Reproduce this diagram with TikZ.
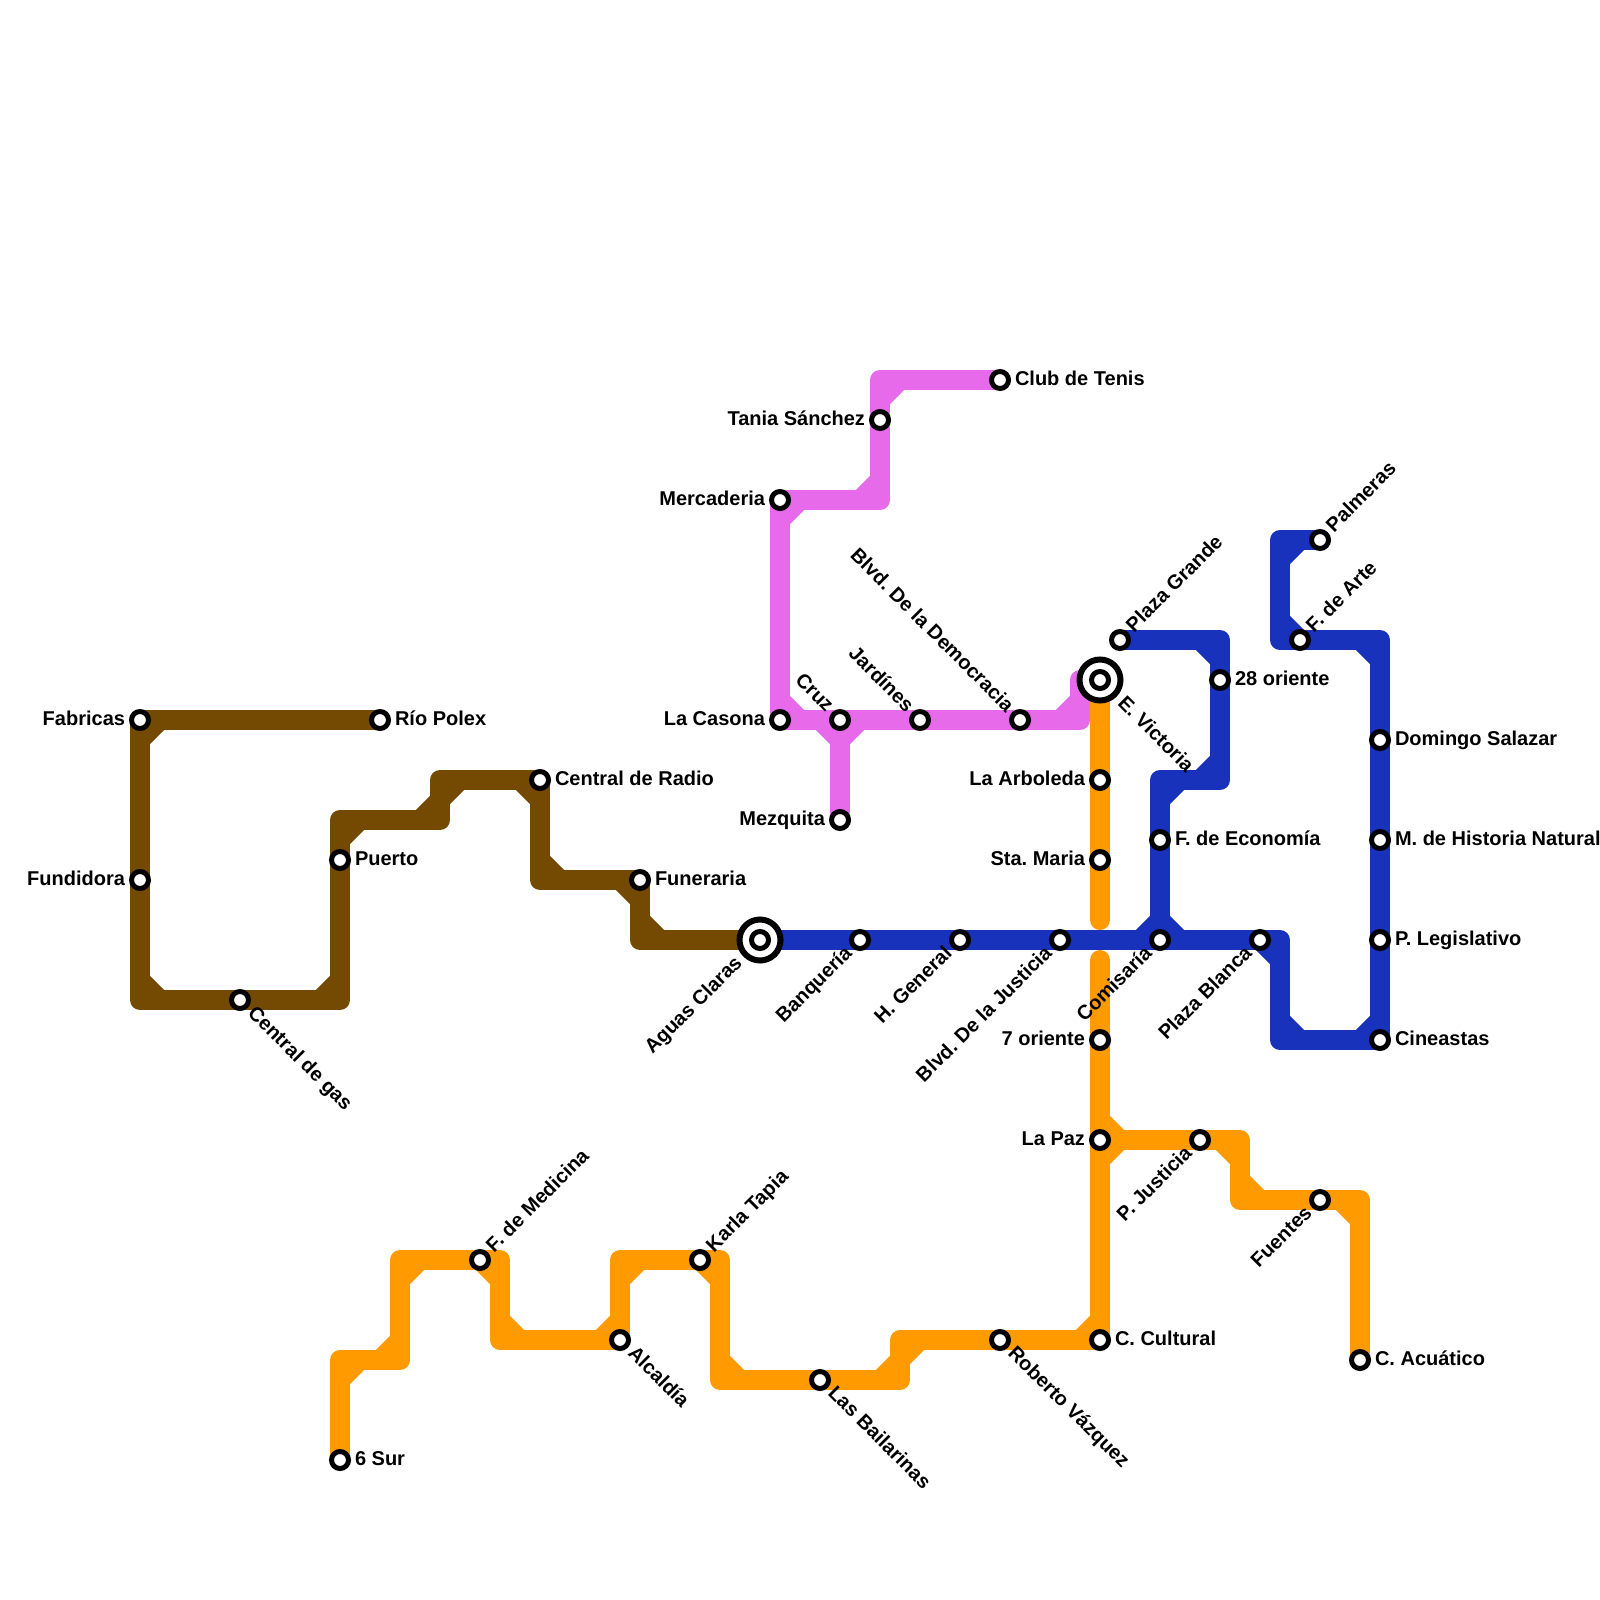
\documentclass[tikz,border=0pt]{standalone}
\usepackage{fontspec}
\setmainfont{Liberation Sans}
\usetikzlibrary{calc,backgrounds}
\definecolor{cbrown}{HTML}{744A02}
\definecolor{cpink}{HTML}{E66AE9}
\definecolor{corange}{HTML}{FF9B00}
\definecolor{cblue}{HTML}{1932BB}
\tikzset{
  stn/.style={circle,draw=black,fill=white,line width=5pt,inner sep=0pt,outer sep=0pt,minimum size=17pt},
  hub/.style={circle,draw=black,fill=white,line width=6pt,inner sep=0pt,outer sep=0pt,minimum size=41pt},
  route/.style={line width=20pt,line join=round,line cap=round},
  lab/.style={inner sep=0pt,outer sep=0pt,text height=14pt,text depth=3.8pt,font=\fontsize{20}{24}\selectfont\bfseries\frenchspacing},
  lr/.style={lab,anchor=west,xshift=15pt},
  ll/.style={lab,anchor=east,xshift=-15pt},
  ur/.style={lab,anchor=west,xshift=10.6pt,yshift=10.6pt,rotate=45},
  dr/.style={lab,anchor=west,xshift=10.6pt,yshift=-10.6pt,rotate=-45},
  dl/.style={lab,anchor=east,xshift=-10.6pt,yshift=-10.6pt,rotate=45},
  ul/.style={lab,anchor=east,xshift=-10.6pt,yshift=10.6pt,rotate=-45},
  hubdr/.style={lab,anchor=west,xshift=20.5pt,yshift=-20.5pt,rotate=-45},
  hubdl/.style={lab,anchor=east,xshift=-20.5pt,yshift=-20.5pt,rotate=45},
}
\newcommand{\cham}[2]{%
  \foreach \p/\q/\r in {#2}
    \draw[line width=20pt,#1] ($(\q.center)!20pt!(\p.center)$) -- ($(\q.center)!20pt!(\r.center)$);%
}
\begin{document}
\begin{tikzpicture}[x=1pt,y=-1pt]
\useasboundingbox (0,0) rectangle (1600,1600);
% interchange rings
\node[hub] (aguasring) at (760,940) {};
\node[hub] (victoriaring) at (1100,680) {};
% stations
\foreach \n/\x/\y in {
 fabricas/140/720, polex/380/720, fundidora/140/880, cgas/240/1000, puerto/340/860,
 cradio/540/780, funeraria/640/880, aguas/760/940,
 banqueria/860/940, hgeneral/960/940, bjusticia/1060/940, comisaria/1160/940, pblanca/1260/940,
 cineastas/1380/1040, plegis/1380/940, mhist/1380/840, dsalazar/1380/740, farte/1300/640, palmeras/1320/540,
 pgrande/1120/640, oriente/1220/680, feco/1160/840,
 victoria/1100/680, arboleda/1100/780, stamaria/1100/860,
 sieteor/1100/1040, lapaz/1100/1140, ccultural/1100/1340, pjusticia/1200/1140, fuentes/1320/1200, acuatico/1360/1360,
 roberto/1000/1340, bailarinas/820/1380, karla/700/1260, alcaldia/620/1340, fmedicina/480/1260, seissur/340/1460,
 tenis/1000/380, tania/880/420, mercaderia/780/500, casona/780/720, cruz/840/720, jardines/920/720, bdemo/1020/720, mezquita/840/820}
 {\node[stn] (\n) at (\x,\y) {};}
% corners
\foreach \n/\x/\y in {
 b1/140/1000, b2/340/1000, b3/340/820, b4/440/820, b5/440/780, b6/540/880, b7/640/940,
 l1/1280/940, l2/1280/1040, l3/1380/640, l4/1280/640, l5/1280/540, l6/1160/780, l7/1220/780, l8/1220/640,
 o1/340/1360, o2/400/1360, o3/400/1260, o4/500/1260, o5/500/1340, o6/620/1260, o7/720/1260, o8/720/1380,
 o9/900/1380, o10/900/1340, o11/1240/1140, o12/1240/1200, o13/1360/1200, oend/1100/920, ostart/1100/960,
 p1/880/380, p2/880/500, p3/1080/720, p4/1080/680}
 {\coordinate (\n) at (\x,\y);}
\begin{pgfonlayer}{background}
\fill[white] (0,0) rectangle (1600,1600);
% pink
\draw[route,cpink] (tenis.center) -- (p1.center) -- (tania.center) -- (p2.center) -- (mercaderia.center) -- (casona.center) -- (cruz.center) -- (jardines.center) -- (bdemo.center) -- (p3.center) -- (p4.center) -- (victoria.center);
\draw[route,cpink] (cruz.center) -- (mezquita.center);
\cham{cpink}{tenis/p1/tania, tania/p2/mercaderia, p2/mercaderia/casona, mercaderia/casona/cruz, casona/cruz/mezquita, jardines/cruz/mezquita, bdemo/p3/p4, p3/p4/victoria}
% orange
\draw[route,corange] (victoria.center) -- (arboleda.center) -- (stamaria.center) -- (oend.center);
\draw[route,corange] (ostart.center) -- (sieteor.center) -- (lapaz.center) -- (ccultural.center) -- (roberto.center) -- (o10.center) -- (o9.center) -- (bailarinas.center) -- (o8.center) -- (o7.center) -- (karla.center) -- (o6.center) -- (alcaldia.center) -- (o5.center) -- (o4.center) -- (fmedicina.center) -- (o3.center) -- (o2.center) -- (o1.center) -- (seissur.center);
\draw[route,corange] (lapaz.center) -- (pjusticia.center) -- (o11.center) -- (o12.center) -- (fuentes.center) -- (o13.center) -- (acuatico.center);
\cham{corange}{sieteor/lapaz/pjusticia, ccultural/lapaz/pjusticia, lapaz/ccultural/roberto, roberto/o10/o9, o10/o9/bailarinas, bailarinas/o8/o7, o8/o7/karla, karla/o6/alcaldia, o6/alcaldia/o5, alcaldia/o5/o4, o5/o4/fmedicina, fmedicina/o3/o2, o3/o2/o1, o2/o1/seissur, pjusticia/o11/o12, o11/o12/fuentes, fuentes/o13/acuatico}
% blue
\draw[route,cblue] (aguas.center) -- (banqueria.center) -- (hgeneral.center) -- (bjusticia.center) -- (comisaria.center) -- (pblanca.center) -- (l1.center) -- (l2.center) -- (cineastas.center) -- (plegis.center) -- (mhist.center) -- (dsalazar.center) -- (l3.center) -- (farte.center) -- (l4.center) -- (l5.center) -- (palmeras.center);
\draw[route,cblue] (comisaria.center) -- (feco.center) -- (l6.center) -- (l7.center) -- (oriente.center) -- (l8.center) -- (pgrande.center);
\cham{cblue}{pblanca/l1/l2, l1/l2/cineastas, l2/cineastas/plegis, dsalazar/l3/farte, farte/l4/l5, l4/l5/palmeras, bjusticia/comisaria/feco, pblanca/comisaria/feco, feco/l6/l7, l6/l7/oriente, oriente/l8/pgrande}
% brown
\draw[route,cbrown] (polex.center) -- (fabricas.center) -- (fundidora.center) -- (b1.center) -- (cgas.center) -- (b2.center) -- (puerto.center) -- (b3.center) -- (b4.center) -- (b5.center) -- (cradio.center) -- (b6.center) -- (funeraria.center) -- (b7.center) -- (aguas.center);
\cham{cbrown}{polex/fabricas/fundidora, fundidora/b1/cgas, cgas/b2/puerto, puerto/b3/b4, b3/b4/b5, b4/b5/cradio, b5/cradio/b6, cradio/b6/funeraria, b6/funeraria/b7, funeraria/b7/aguas}
\end{pgfonlayer}
% labels
\node[ll] (t1) at (fabricas.center) {Fabricas};
\node[ll] (t2) at (fundidora.center) {Fundidora};
\node[lr] (t3) at (polex.center) {Río Polex};
\node[dr] (t4) at (cgas.center) {Central de gas};
\node[lr] (t5) at (puerto.center) {Puerto};
\node[lr] (t6) at (cradio.center) {Central de Radio};
\node[lr] (t7) at (funeraria.center) {Funeraria};
\node[hubdl] (t8) at (aguas.center) {Aguas Claras};
\node[dl] (t9) at (banqueria.center) {Banquería};
\node[dl] (t10) at (hgeneral.center) {H. General};
\node[dl] (t11) at (bjusticia.center) {Blvd. De la Justicia};
\node[dl] (t12) at (comisaria.center) {Comisaría};
\node[dl] (t13) at (pblanca.center) {Plaza Blanca};
\node[lr] (t14) at (cineastas.center) {Cineastas};
\node[lr] (t15) at (plegis.center) {P. Legislativo};
\node[lr] (t16) at (mhist.center) {M. de Historia Natural};
\node[lr] (t17) at (dsalazar.center) {Domingo Salazar};
\node[ur] (t18) at (farte.center) {F. de Arte};
\node[ur] (t19) at (palmeras.center) {Palmeras};
\node[ur] (t20) at (pgrande.center) {Plaza Grande};
\node[lr] (t21) at (oriente.center) {28 oriente};
\node[lr] (t22) at (feco.center) {F. de Economía};
\node[hubdr] (t23) at (victoria.center) {E. Victoria};
\node[ll] (t24) at (arboleda.center) {La Arboleda};
\node[ll] (t25) at (stamaria.center) {Sta. Maria};
\node[ll] (t26) at (sieteor.center) {7 oriente};
\node[ll] (t27) at (lapaz.center) {La Paz};
\node[lr] (t28) at (ccultural.center) {C. Cultural};
\node[dl] (t29) at (pjusticia.center) {P. Justicia};
\node[dl] (t30) at (fuentes.center) {Fuentes};
\node[lr] (t31) at (acuatico.center) {C. Acuático};
\node[dr] (t32) at (roberto.center) {Roberto Vázquez};
\node[dr] (t33) at (bailarinas.center) {Las Bailarinas};
\node[ur] (t34) at (karla.center) {Karla Tapia};
\node[dr] (t35) at (alcaldia.center) {Alcaldía};
\node[ur] (t36) at (fmedicina.center) {F. de Medicina};
\node[lr] (t37) at (seissur.center) {6 Sur};
\node[lr] (t38) at (tenis.center) {Club de Tenis};
\node[ll] (t39) at (tania.center) {Tania Sánchez};
\node[ll] (t40) at (mercaderia.center) {Mercaderia};
\node[ll] (t41) at (casona.center) {La Casona};
\node[ul] (t42) at (cruz.center) {Cruz};
\node[ul] (t43) at (jardines.center) {Jardínes};
\node[ul] (t44) at (bdemo.center) {Blvd. De la Democracia};
\node[ll] (t45) at (mezquita.center) {Mezquita};
\end{tikzpicture}
\end{document}
